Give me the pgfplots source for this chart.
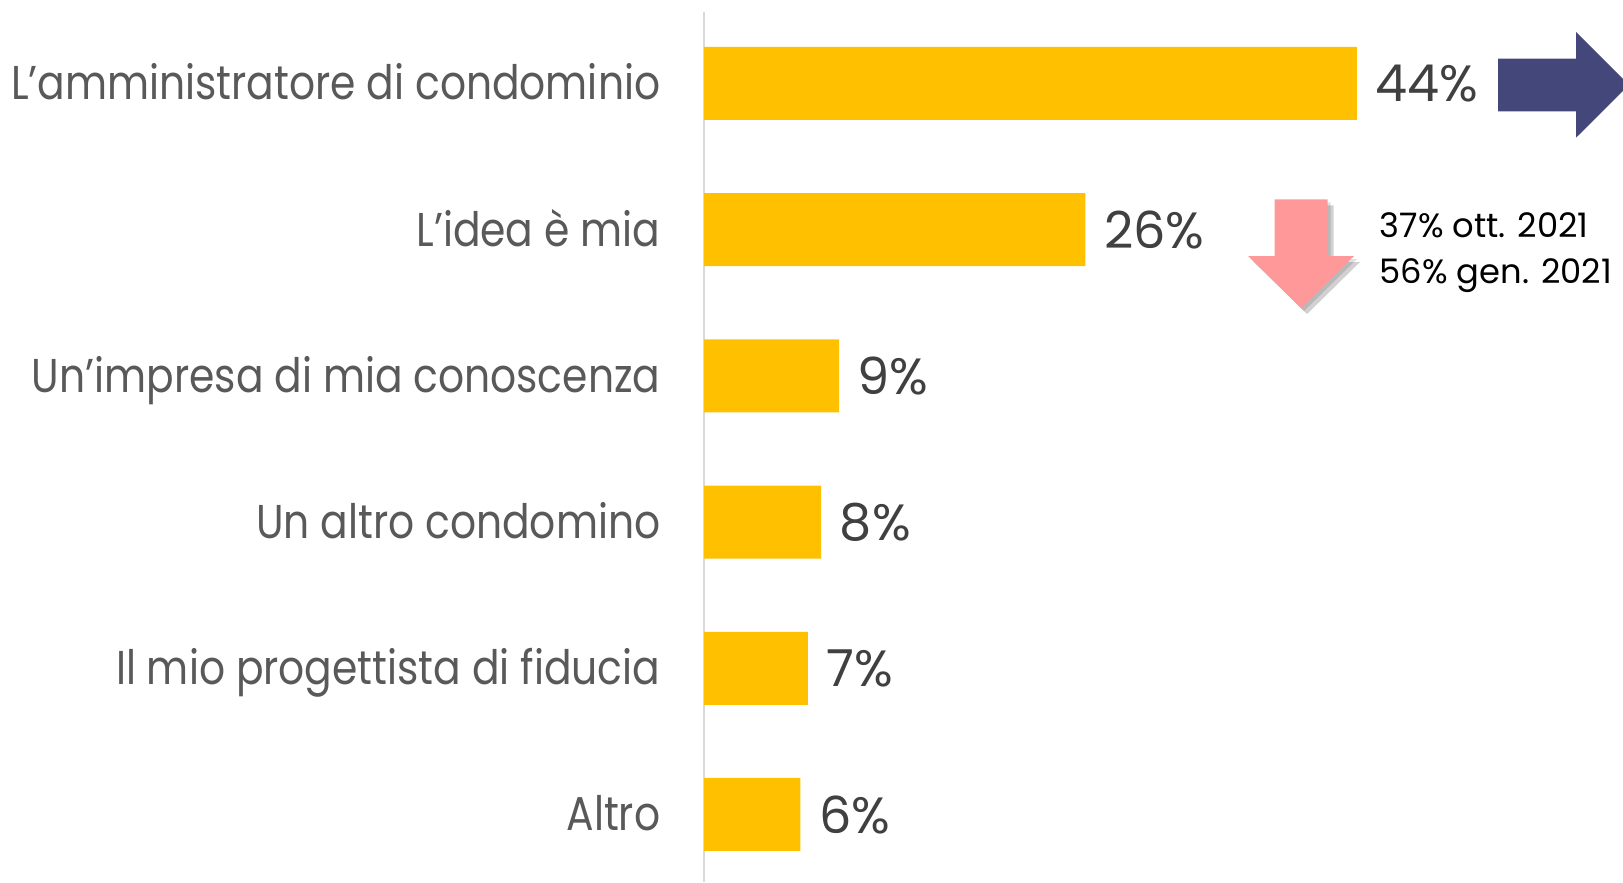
\documentclass[border=0pt]{standalone}
\usepackage{pgfplots}
\pgfplotsset{compat=1.18}
\usepackage{fontspec}
\setmainfont{Poppins}
\newfontfamily\catfont[FakeStretch=0.86]{Poppins}
\definecolor{barorange}{HTML}{FFC000}
\definecolor{labgray}{HTML}{595959}
\definecolor{valgray}{HTML}{404040}
\definecolor{axisgray}{HTML}{D9D9D9}
\definecolor{navyarrow}{HTML}{44477A}
\definecolor{pinkarrow}{HTML}{FF9999}

\begin{document}
\begin{tikzpicture}
\useasboundingbox (0,0) rectangle (162.3mm,88.2mm);
\begin{axis}[
    at={(70.4mm,0mm)}, anchor=south west,
    scale only axis,
    width=89.04mm, height=87.0mm,
    xmin=0, xmax=60,
    ymin=-0.488, ymax=5.462,
    y dir=reverse,
    xbar, bar width=7.3mm,
    hide x axis,
    axis y line*=left,
    y axis line style={-, draw=axisgray, line width=0.6pt},
    ytick={0,1,2,3,4,5},
    yticklabels={L’amministratore di condominio, L’idea è mia, Un’impresa di mia conoscenza, Un altro condomino, Il mio progettista di fiducia, Altro},
    ytick style={draw=none},
    yticklabel style={anchor=east, inner sep=0pt, xshift=-2.8mm, text=labgray,
        font=\catfont\fontsize{13.5}{16}\selectfont, text height=3.3mm, text depth=0pt},
    nodes near coords, point meta=explicit symbolic,
    every node near coord/.append style={anchor=west, inner sep=0pt, xshift=1.8mm,
        text=valgray, font=\fontsize{14.5}{17}\selectfont, text depth=0pt},
    clip=false,
]
\addplot[fill=barorange, draw=none] coordinates {
    (44,0)[44\%] (25.7,1)[26\%] (9.1,2)[9\%] (7.9,3)[8\%] (7.0,4)[7\%] (6.5,5)[6\%]
    };
\end{axis}

\begin{scope}[x=0.1mm,y=0.1mm]
% freccia blu
\fill[navyarrow] (1498,823.3) -- (1576,823.3) -- (1576,850) -- (1629,797.2)
    -- (1576,744.3) -- (1576,770.7) -- (1498,770.7) -- cycle;

% freccia rosa con ombra
\fill[black, opacity=0.18, shift={(6,-6)}] (1274.7,682.7) -- (1327.7,682.7) -- (1327.7,626)
    -- (1354,626) -- (1301,574) -- (1248,626) -- (1274.7,626) -- cycle;
\fill[black, opacity=0.12, shift={(3,-3)}] (1274.7,682.7) -- (1327.7,682.7) -- (1327.7,626)
    -- (1354,626) -- (1301,574) -- (1248,626) -- (1274.7,626) -- cycle;
\fill[pinkarrow] (1274.7,682.7) -- (1327.7,682.7) -- (1327.7,626)
    -- (1354,626) -- (1301,574) -- (1248,626) -- (1274.7,626) -- cycle;

\node[anchor=base west, inner sep=0pt, font=\fontsize{9.6}{11}\selectfont] at (1379,645) {37\% ott. 2021};
\node[anchor=base west, inner sep=0pt, font=\fontsize{9.6}{11}\selectfont] at (1379,599) {56\% gen. 2021};
\end{scope}
\end{tikzpicture}
\end{document}
